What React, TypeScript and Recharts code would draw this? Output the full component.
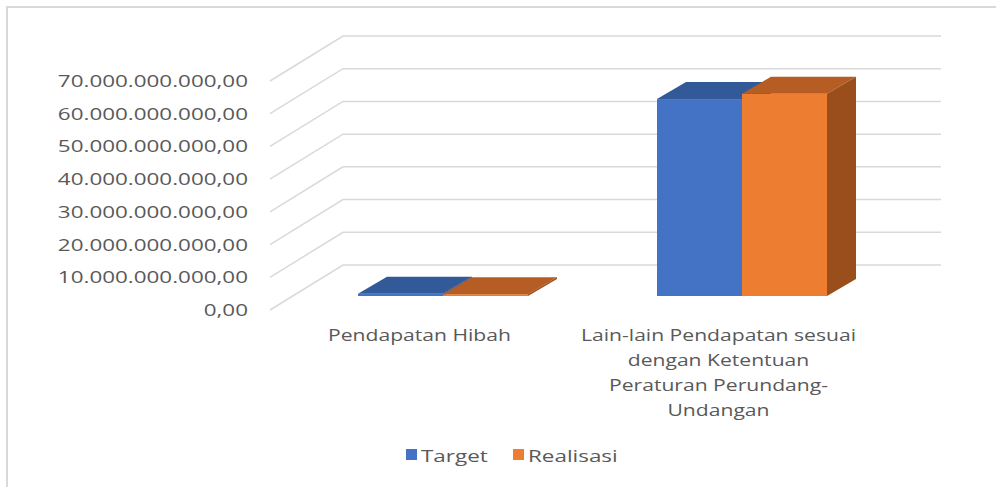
import React from 'react';
import { BarChart, Bar, XAxis, YAxis, CartesianGrid, Legend } from 'recharts';

// data
const categories = [
    'Pendapatan Hibah',
    'Lain-lain Pendapatan sesuai dengan Ketentuan Peraturan Perundang-Undangan',
];
const categoryLines = [
    ['Pendapatan Hibah'],
    ['Lain-lain Pendapatan sesuai', 'dengan Ketentuan', 'Peraturan Perundang-', 'Undangan'],
];
const target = [700000000, 60200000000];
const realisasi = [550000000, 61800000000];
const yTicks = [0, 10000000000, 20000000000, 30000000000, 40000000000, 50000000000, 60000000000, 70000000000];
const seriesNames = ['Target', 'Realisasi'];

const chartData = categories.map((name, i) => ({
    name,
    target: target[i],
    realisasi: realisasi[i],
}));

// 3d look
const DX = 29; // bar depth
const DY = 17;
const SX = 1.32; // the picture is stretched sideways
const TEXT = '#595959';
const FONT = '"Open Sans", sans-serif';

const colors = {
    target: { front: '#4472C4', top: '#335A98', side: '#2C4F86' },
    realisasi: { front: '#ED7D31', top: '#B55D22', side: '#9A4E1C' },
};

/* format number as 70.000.000.000,00 */
const formatRp = (v: number) => {
    const s = Math.round(v).toString().replace(/\B(?=(\d{3})+(?!\d))/g, '.');
    return s + ',00';
};

const makeShape = (c: { front: string; top: string; side: string }) => (props: any) => {
    const { x, y, width, height } = props;
    const w = width;
    const h = Math.max(height, 1.5);
    const y0 = y + height - h;
    return (
        <g>
            <rect x={x} y={y0} width={w} height={h} fill={c.front} />
            <polygon
                points={`${x},${y0} ${x + w},${y0} ${x + w + DX},${y0 - DY} ${x + DX},${y0 - DY}`}
                fill={c.top}
            />
            <polygon
                points={`${x + w},${y0} ${x + w + DX},${y0 - DY} ${x + w + DX},${y0 + h - DY} ${x + w},${y0 + h}`}
                fill={c.side}
            />
        </g>
    );
};

// gridline = back wall line + slanted line on the side wall
const gridLine = (props: any) => {
    const { x1, x2, y1, index } = props;
    return (
        <polyline
            key={`g-${index}`}
            points={`${x1 - 23},${y1 + 14} ${x1 + 50},${y1 - 31} ${x2 + 50},${y1 - 31}`}
            fill="none"
            stroke="#d9d9d9"
            strokeWidth={1.5}
        />
    );
};

const YTick = (props: any) => {
    const { y, payload } = props;
    return (
        <text
            transform={`translate(248,${y + 20}) scale(${SX},1)`}
            textAnchor="end"
            fill={TEXT}
            fontSize={17}
            fontFamily={FONT}
        >
            {formatRp(payload.value)}
        </text>
    );
};

const XTick = (props: any) => {
    const { x, payload, index } = props;
    const lines = categoryLines[index] || [payload.value];
    return (
        <g>
            {lines.map((line, i) => (
                <text
                    key={i}
                    transform={`translate(${x - 23},${341 + i * 25}) scale(${SX},1)`}
                    textAnchor="middle"
                    fill={TEXT}
                    fontSize={16}
                    fontFamily={FONT}
                >
                    {line}
                </text>
            ))}
        </g>
    );
};

const LegendContent = () => {
    const fills = [colors.target.front, colors.realisasi.front];
    const xs = [406, 513];
    return (
        <svg width={996} height={24} style={{ display: 'block' }}>
            {seriesNames.map((n, i) => (
                <g key={n}>
                    <rect x={xs[i]} y={5} width={11} height={11} fill={fills[i]} />
                    <text
                        transform={`translate(${xs[i] + 15},18) scale(${SX},1)`}
                        fill={TEXT}
                        fontSize={17}
                        fontFamily={FONT}
                    >
                        {n}
                    </text>
                </g>
            ))}
        </svg>
    );
};

const App = () => {
    return (
        <div style={{ position: 'absolute', left: 0, top: 0, width: 996, height: 487, background: '#fff' }}>
            <div
                style={{
                    position: 'absolute',
                    left: 6,
                    top: 6,
                    right: 0,
                    bottom: 0,
                    borderLeft: '2px solid #d9d9d9',
                    borderTop: '2px solid #d9d9d9',
                }}
            />
            <BarChart
                width={996}
                height={487}
                data={chartData}
                margin={{ top: 67, right: 105, bottom: 19, left: 0 }}
                barGap={0}
            >
                <CartesianGrid vertical={false} horizontal={gridLine} />
                <XAxis
                    dataKey="name"
                    height={148}
                    axisLine={false}
                    tickLine={false}
                    interval={0}
                    tick={<XTick />}
                />
                <YAxis
                    width={293}
                    domain={[0, 70000000000]}
                    ticks={yTicks}
                    axisLine={false}
                    tickLine={false}
                    tick={<YTick />}
                />
                <Legend
                    verticalAlign="bottom"
                    height={24}
                    content={<LegendContent />}
                    wrapperStyle={{ left: 0, width: 996 }}
                />
                <Bar
                    dataKey="target"
                    name={seriesNames[0]}
                    barSize={85}
                    shape={makeShape(colors.target)}
                    isAnimationActive={false}
                />
                <Bar
                    dataKey="realisasi"
                    name={seriesNames[1]}
                    barSize={85}
                    shape={makeShape(colors.realisasi)}
                    isAnimationActive={false}
                />
            </BarChart>
        </div>
    );
};

export default App;
